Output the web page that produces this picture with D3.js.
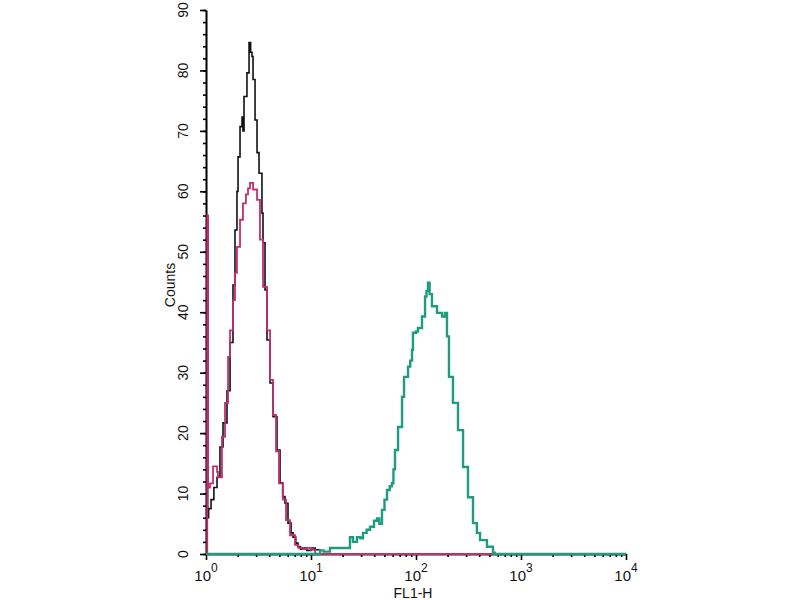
<!DOCTYPE html>
<html>
<head>
<meta charset="utf-8">
<script src="https://cdn.jsdelivr.net/npm/d3@7"></script>
<style>
  body { margin: 0; background: #fff; }
  svg { font-family: "Liberation Sans", Arial, sans-serif; }
</style>
</head>
<body>
<script>
const blackHist = [
  [0.010, 0], [0.010, 34], [0.016, 6], [0.025, 7.5], [0.048, 9], [0.075, 11], [0.105, 12.7],
  [0.133, 17.7], [0.162, 21.7], [0.2, 27], [0.229, 35], [0.257, 44.5], [0.276, 53.6],
  [0.295, 60], [0.305, 65.7], [0.324, 70.7], [0.343, 72.3], [0.352, 70], [0.362, 75.7],
  [0.39, 79.6], [0.41, 84.6], [0.425, 83], [0.438, 82.3], [0.448, 78.5], [0.467, 71.8],
  [0.486, 66.4], [0.505, 63], [0.533, 56.4], [0.543, 51.5], [0.562, 43.7], [0.581, 35.4],
  [0.61, 28.3], [0.638, 22.7], [0.676, 17.2], [0.705, 11.8], [0.73, 9.5], [0.752, 8.4],
  [0.781, 5.1], [0.81, 3.5], [0.829, 2.8], [0.855, 1.8], [0.876, 1.2], [0.9, 0.8],
  [0.93, 1], [0.96, 0.6], [1.0, 1], [1.04, 0.7], [1.086, 0], [4.0, 0]
];

const pinkHist = [
  [0.012, 0], [0.012, 56], [0.02, 11], [0.038, 11.7], [0.067, 14.5], [0.105, 13.6], [0.114, 12.7],
  [0.152, 19.4], [0.181, 25], [0.21, 32.6], [0.229, 37], [0.257, 42], [0.276, 46.5],
  [0.295, 50.8], [0.324, 55.3], [0.352, 58], [0.38, 59.5], [0.4, 60.5], [0.419, 61.4],
  [0.448, 60.3], [0.486, 58.6], [0.514, 52], [0.543, 44.2], [0.581, 37], [0.61, 28.8],
  [0.638, 23], [0.667, 17], [0.695, 11.7], [0.733, 9], [0.762, 5.6], [0.8, 3.1],
  [0.848, 1.5], [0.88, 1], [0.92, 0.8], [0.96, 1], [1.0, 0.7], [1.04, 0], [4.0, 0]
];

const greenHist = [
  [0, 0], [1.05, 0], [1.086, 0.6], [1.12, 0.4], [1.181, 1], [1.343, 1], [1.371, 2.8],
  [1.4, 2], [1.438, 2.8], [1.47, 2.6], [1.495, 3.5], [1.53, 4], [1.562, 4.5], [1.6, 5.5],
  [1.629, 5.9], [1.65, 5], [1.676, 7.3], [1.7, 9], [1.724, 10.6], [1.75, 11.2],
  [1.771, 11.7], [1.785, 14], [1.8, 17.2], [1.829, 21], [1.867, 26], [1.886, 29.3],
  [1.924, 31], [1.945, 32], [1.962, 33.8], [1.971, 36.6], [2.0, 36.8], [2.019, 37.4],
  [2.057, 39.3], [2.086, 42.6], [2.1, 43.5], [2.114, 44.9], [2.13, 43], [2.152, 41],
  [2.2, 39.9], [2.248, 39.3], [2.276, 39.9], [2.295, 36], [2.314, 29.3], [2.352, 25],
  [2.4, 20.5], [2.448, 14.4], [2.495, 9.4], [2.543, 5.1], [2.58, 3.5], [2.61, 2.3],
  [2.676, 1.2], [2.733, 0.2], [2.75, 0], [4.0, 0]
];

const xDecades = [0, 1, 2, 3, 4];
const yTicks = [0, 10, 20, 30, 40, 50, 60, 70, 80, 90];
const yMinor = d3.range(0, 91, 2);

const w = 800, h = 600;
const x = d3.scaleLog().domain([1, 1e4]).range([206, 626]);
const y = d3.scaleLinear().domain([0, 90]).range([554, 10]);

const svg = d3.select('body').append('svg').attr('width', w).attr('height', h);

// x axis: decades + minor ticks
const xMajor = xDecades.map(p => Math.pow(10, p));
const xMinorVals = [];
xDecades.slice(0, -1).forEach(p => {
  for (let k = 2; k <= 9; k++) xMinorVals.push(k * Math.pow(10, p));
});

const xAxis = svg.append('g').attr('transform', 'translate(0,' + y(0) + ')');
xAxis.call(d3.axisBottom(x).tickValues(xMajor).tickSize(6).tickSizeOuter(0).tickFormat(''));
xAxis.append('g').call(d3.axisBottom(x).tickValues(xMinorVals).tickSize(3).tickSizeOuter(0).tickFormat(''));
xAxis.selectAll('path, line').attr('stroke', '#000').attr('stroke-width', 1.6);

xDecades.forEach(p => {
  const t = svg.append('text')
    .attr('x', x(Math.pow(10, p)))
    .attr('y', 581)
    .attr('text-anchor', 'middle')
    .attr('font-size', 15)
    .attr('fill', '#111');
  t.append('tspan').text('10');
  t.append('tspan').attr('font-size', 12).attr('dy', -9).text(p);
});

// y axis
const yAxis = svg.append('g').attr('transform', 'translate(' + x(1) + ',0)');
yAxis.call(d3.axisLeft(y).tickValues(yTicks).tickSize(6).tickSizeOuter(0).tickFormat(''));
yAxis.append('g').call(d3.axisLeft(y).tickValues(yMinor).tickSize(3).tickSizeOuter(0).tickFormat(''));
yAxis.selectAll('path, line').attr('stroke', '#000').attr('stroke-width', 1.6);

yTicks.forEach(v => {
  svg.append('text')
    .attr('transform', 'translate(188,' + y(v) + ') rotate(-90)')
    .attr('text-anchor', 'middle')
    .attr('font-size', 14)
    .attr('fill', '#111')
    .text(v);
});

svg.append('text')
  .attr('transform', 'translate(175,285) rotate(-90)')
  .attr('text-anchor', 'middle')
  .attr('font-size', 14)
  .attr('fill', '#111')
  .text('Counts');

svg.append('text')
  .attr('x', 413).attr('y', 598)
  .attr('text-anchor', 'middle')
  .attr('font-size', 14)
  .attr('fill', '#111')
  .text('FL1-H');

// histograms drawn over the axes, as in the original
const line = d3.line()
  .x(d => x(Math.pow(10, d[0])))
  .y(d => y(d[1]))
  .curve(d3.curveStepAfter);

svg.append('path').datum(blackHist)
  .attr('d', line).attr('fill', 'none')
  .attr('stroke', '#111').attr('stroke-width', 1.6);

svg.append('path').datum(pinkHist)
  .attr('d', line).attr('fill', 'none')
  .attr('stroke', '#c0306c').attr('stroke-width', 1.8);

svg.append('path').datum(greenHist)
  .attr('d', line).attr('fill', 'none')
  .attr('stroke', '#1f9c80').attr('stroke-width', 2.4);
</script>
</body>
</html>
